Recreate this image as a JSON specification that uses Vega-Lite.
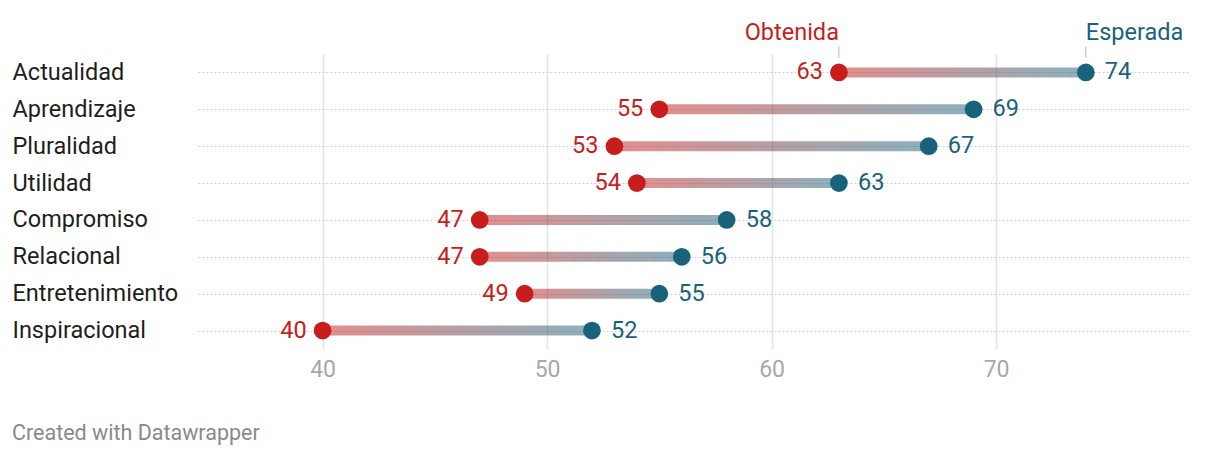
{
  "$schema": "https://vega.github.io/schema/vega-lite/v6.json",
  "width": 990,
  "height": 295,
  "autosize": {"type": "none"},
  "padding": {"left": 198, "top": 54, "right": 32, "bottom": 109},
  "background": "white",
  "config": {"view": {"stroke": null}, "font": "Roboto"},
  "title": {
    "text": "Created with Datawrapper",
    "orient": "bottom",
    "anchor": "start",
    "frame": "bounds",
    "offset": 42,
    "fontSize": 21.5,
    "fontWeight": "normal",
    "color": "#8a8a8a",
    "font": "Roboto"
  },
  "data": {
    "values": [
      {"categoria": "Actualidad", "obtenida": 63, "esperada": 74},
      {"categoria": "Aprendizaje", "obtenida": 55, "esperada": 69},
      {"categoria": "Pluralidad", "obtenida": 53, "esperada": 67},
      {"categoria": "Utilidad", "obtenida": 54, "esperada": 63},
      {"categoria": "Compromiso", "obtenida": 47, "esperada": 58},
      {"categoria": "Relacional", "obtenida": 47, "esperada": 56},
      {"categoria": "Entretenimiento", "obtenida": 49, "esperada": 55},
      {"categoria": "Inspiracional", "obtenida": 40, "esperada": 52}
    ]
  },
  "encoding": {
    "y": {
      "field": "categoria",
      "type": "nominal",
      "sort": null,
      "scale": {"type": "point", "padding": 0.5},
      "axis": {
        "title": null,
        "domain": false,
        "ticks": false,
        "grid": true,
        "gridDash": [2, 2],
        "gridColor": "#cfcfcf",
        "gridWidth": 1,
        "labelFont": "Roboto",
        "labelFontSize": 23.5,
        "labelColor": "#1e1e1e",
        "labelAlign": "left",
        "labelPadding": 186
      }
    }
  },
  "layer": [
    {
      "mark": {
        "type": "bar",
        "size": 10,
        "fillOpacity": 0.5,
        "fill": {
          "x1": 0, "y1": 0, "x2": 1, "y2": 0,
          "gradient": "linear",
          "stops": [
            {"offset": 0, "color": "#c71e1d"},
            {"offset": 1, "color": "#18627b"}
          ]
        }
      },
      "encoding": {
        "x": {
          "field": "obtenida",
          "type": "quantitative",
          "scale": {"domain": [34.45, 78.55], "nice": false, "zero": false},
          "axis": {
            "title": null,
            "values": [40, 50, 60, 70],
            "domain": false,
            "ticks": false,
            "grid": true,
            "gridColor": "#e3e3e3",
            "gridWidth": 1.5,
            "labelFont": "Roboto",
            "labelFontSize": 23,
            "labelColor": "#a8a8a8",
            "labelPadding": 9
          }
        },
        "x2": {"field": "esperada"}
      }
    },
    {
      "mark": {"type": "circle", "size": 314, "opacity": 1, "color": "#c71e1d"},
      "encoding": {"x": {"field": "obtenida", "type": "quantitative"}}
    },
    {
      "mark": {"type": "circle", "size": 314, "opacity": 1, "color": "#18627b"},
      "encoding": {"x": {"field": "esperada", "type": "quantitative"}}
    },
    {
      "mark": {"type": "text", "align": "right", "baseline": "middle", "dx": -16, "fontSize": 23.5, "font": "Roboto", "color": "#c71e1d"},
      "encoding": {
        "x": {"field": "obtenida", "type": "quantitative"},
        "text": {"field": "obtenida", "type": "quantitative"}
      }
    },
    {
      "mark": {"type": "text", "align": "left", "baseline": "middle", "dx": 19, "fontSize": 23.5, "font": "Roboto", "color": "#18627b"},
      "encoding": {
        "x": {"field": "esperada", "type": "quantitative"},
        "text": {"field": "esperada", "type": "quantitative"}
      }
    },
    {
      "transform": [{"filter": "datum.categoria === 'Actualidad'"}],
      "mark": {"type": "tick", "orient": "vertical", "size": 11, "thickness": 1, "yOffset": -20.5, "color": "#9a9a9a"},
      "encoding": {"x": {"field": "obtenida", "type": "quantitative"}}
    },
    {
      "transform": [{"filter": "datum.categoria === 'Actualidad'"}],
      "mark": {"type": "tick", "orient": "vertical", "size": 11, "thickness": 1, "yOffset": -20.5, "color": "#9a9a9a"},
      "encoding": {"x": {"field": "esperada", "type": "quantitative"}}
    },
    {
      "transform": [{"filter": "datum.categoria === 'Actualidad'"}],
      "mark": {"type": "text", "align": "right", "baseline": "middle", "dy": -39, "fontSize": 23.5, "font": "Roboto", "color": "#c71e1d", "text": "Obtenida"},
      "encoding": {"x": {"field": "obtenida", "type": "quantitative"}}
    },
    {
      "transform": [{"filter": "datum.categoria === 'Actualidad'"}],
      "mark": {"type": "text", "align": "left", "baseline": "middle", "dy": -39, "fontSize": 23.5, "font": "Roboto", "color": "#18627b", "text": "Esperada"},
      "encoding": {"x": {"field": "esperada", "type": "quantitative"}}
    }
  ]
}
